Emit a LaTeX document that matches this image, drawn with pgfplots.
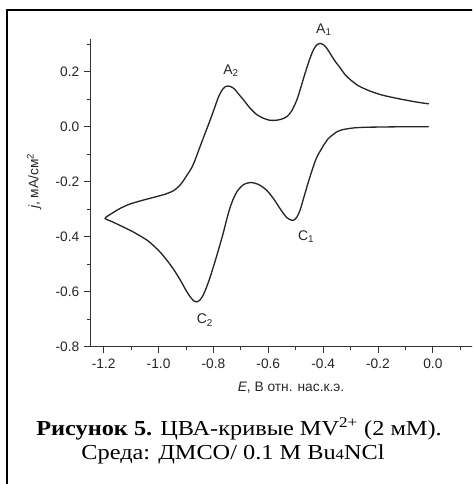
\documentclass[border=0pt]{standalone}
\usepackage{fontspec}
\setmainfont{Liberation Serif}
\newfontfamily\arial{Liberation Sans}
\usepackage{pgfplots}
\pgfplotsset{compat=1.18}

\begin{document}
\begin{tikzpicture}[x=0.75pt,y=0.75pt]
\path[use as bounding box] (0,0) rectangle (472,484);
\clip (0,0) rectangle (472,484);
% frame (only left and top edges are inside the crop)
\draw[line width=1.5pt] (7,-10) -- (7,474) -- (490,474);

\begin{axis}[
  at={(67.5pt,102.75pt)}, anchor=south west,
  scale only axis, width=288pt, height=231pt,
  xmin=-1.25, xmax=0.15, ymin=-0.8, ymax=0.32,
  axis x line*=bottom, axis y line*=left,
  axis line style={-, black!80, line width=0.75pt},
  xtick={-1.2,-1,-0.8,-0.6,-0.4,-0.2,0},
  minor xtick={-1.1,-0.9,-0.7,-0.5,-0.3,-0.1,0.1},
  ytick={-0.8,-0.6,-0.4,-0.2,0,0.2},
  minor ytick={-0.7,-0.5,-0.3,-0.1,0.1,0.3},
  tick align=outside,
  major tick length=4.5pt, minor tick length=2.25pt,
  every tick/.append style={black!80, line width=0.75pt},
  tick label style={font=\arial\fontsize{10.3}{12}\selectfont, text=black!85},
  xticklabel style={yshift=-1pt},
  /pgf/number format/.cd, fixed, fixed zerofill, precision=1, assume math mode=true,
  /pgfplots/.cd,
  clip=false,
]
% cathodic scan (0 -> -1.2 V), then anodic scan back
\addplot[smooth, tension=0.45, line width=1pt, black!85] coordinates {
  (-0.015,0.001) (-0.10,0.001) (-0.18,0.000) (-0.245,-0.001) (-0.285,-0.003)
  (-0.308,-0.006) (-0.33,-0.010) (-0.351,-0.018) (-0.367,-0.030) (-0.381,-0.042)
  (-0.393,-0.058) (-0.405,-0.078) (-0.417,-0.098) (-0.429,-0.124) (-0.448,-0.181)
  (-0.466,-0.241) (-0.484,-0.302) (-0.496,-0.328) (-0.508,-0.339) (-0.52,-0.337)
  (-0.535,-0.327) (-0.557,-0.297) (-0.58,-0.262) (-0.606,-0.230) (-0.63,-0.212)
  (-0.65,-0.204) (-0.666,-0.202) (-0.68,-0.205) (-0.695,-0.213) (-0.712,-0.232)
  (-0.726,-0.258) (-0.739,-0.292) (-0.75,-0.330) (-0.764,-0.385) (-0.782,-0.448)
  (-0.80,-0.508) (-0.815,-0.555) (-0.83,-0.595) (-0.84,-0.616) (-0.85,-0.630)
  (-0.861,-0.636) (-0.872,-0.632) (-0.885,-0.617) (-0.90,-0.594) (-0.92,-0.558)
  (-0.945,-0.518) (-0.97,-0.484) (-1.00,-0.449) (-1.04,-0.413) (-1.09,-0.383)
  (-1.13,-0.363) (-1.17,-0.344) (-1.195,-0.332)
  (-1.17,-0.314) (-1.14,-0.296) (-1.104,-0.280) (-1.06,-0.267) (-1.007,-0.253)
  (-0.975,-0.244) (-0.946,-0.232) (-0.925,-0.215) (-0.91,-0.196) (-0.895,-0.173)
  (-0.879,-0.148) (-0.865,-0.115) (-0.849,-0.072) (-0.83,-0.022) (-0.812,0.025)
  (-0.795,0.072) (-0.782,0.108) (-0.768,0.135) (-0.756,0.147) (-0.746,0.149)
  (-0.735,0.146) (-0.722,0.137) (-0.71,0.122) (-0.69,0.098) (-0.666,0.068)
  (-0.642,0.045) (-0.618,0.032) (-0.597,0.025) (-0.575,0.024) (-0.553,0.028)
  (-0.532,0.038) (-0.515,0.058) (-0.496,0.098) (-0.481,0.145) (-0.466,0.195)
  (-0.452,0.238) (-0.441,0.268) (-0.43,0.290) (-0.42,0.301) (-0.411,0.304)
  (-0.40,0.300) (-0.388,0.288) (-0.375,0.268) (-0.357,0.240) (-0.338,0.215)
  (-0.319,0.189) (-0.295,0.167) (-0.270,0.149) (-0.23,0.131) (-0.185,0.116)
  (-0.14,0.106) (-0.10,0.098) (-0.055,0.090) (-0.015,0.084)
};
\node[font=\arial\fontsize{10.5}{12}\selectfont, text=black!85] at (axis cs:-0.397,0.353) {A\textsubscript{1}};
\node[font=\arial\fontsize{10.5}{12}\selectfont, text=black!85] at (axis cs:-0.736,0.204) {A\textsubscript{2}};
\node[font=\arial\fontsize{10.5}{12}\selectfont, text=black!85] at (axis cs:-0.462,-0.400) {C\textsubscript{1}};
\node[font=\arial\fontsize{10.5}{12}\selectfont, text=black!85] at (axis cs:-0.831,-0.702) {C\textsubscript{2}};
\end{axis}

\node[font=\arial\fontsize{10.3}{12}\selectfont, text=black!85] at (291,96) {\textit{E}, В отн. нас.к.э.};
\node[rotate=90, font=\arial\fontsize{10.3}{12}\selectfont, text=black!85] at (34,303) {\textit{j}, мА/см\textsuperscript{2}};

\node[anchor=base, xscale=1.14, transform shape, font=\fontsize{16}{19}\selectfont] at (239,48) {\textbf{Рисунок 5.} ЦВА-кривые MV\textsuperscript{2+} (2 мМ).};
\node[anchor=base, xscale=1.14, transform shape, font=\fontsize{16}{19}\selectfont] at (233,24) {Среда: ДМСО/ 0.1 M Bu{\fontsize{11}{11}\selectfont 4}NCl};
\end{tikzpicture}
\end{document}
